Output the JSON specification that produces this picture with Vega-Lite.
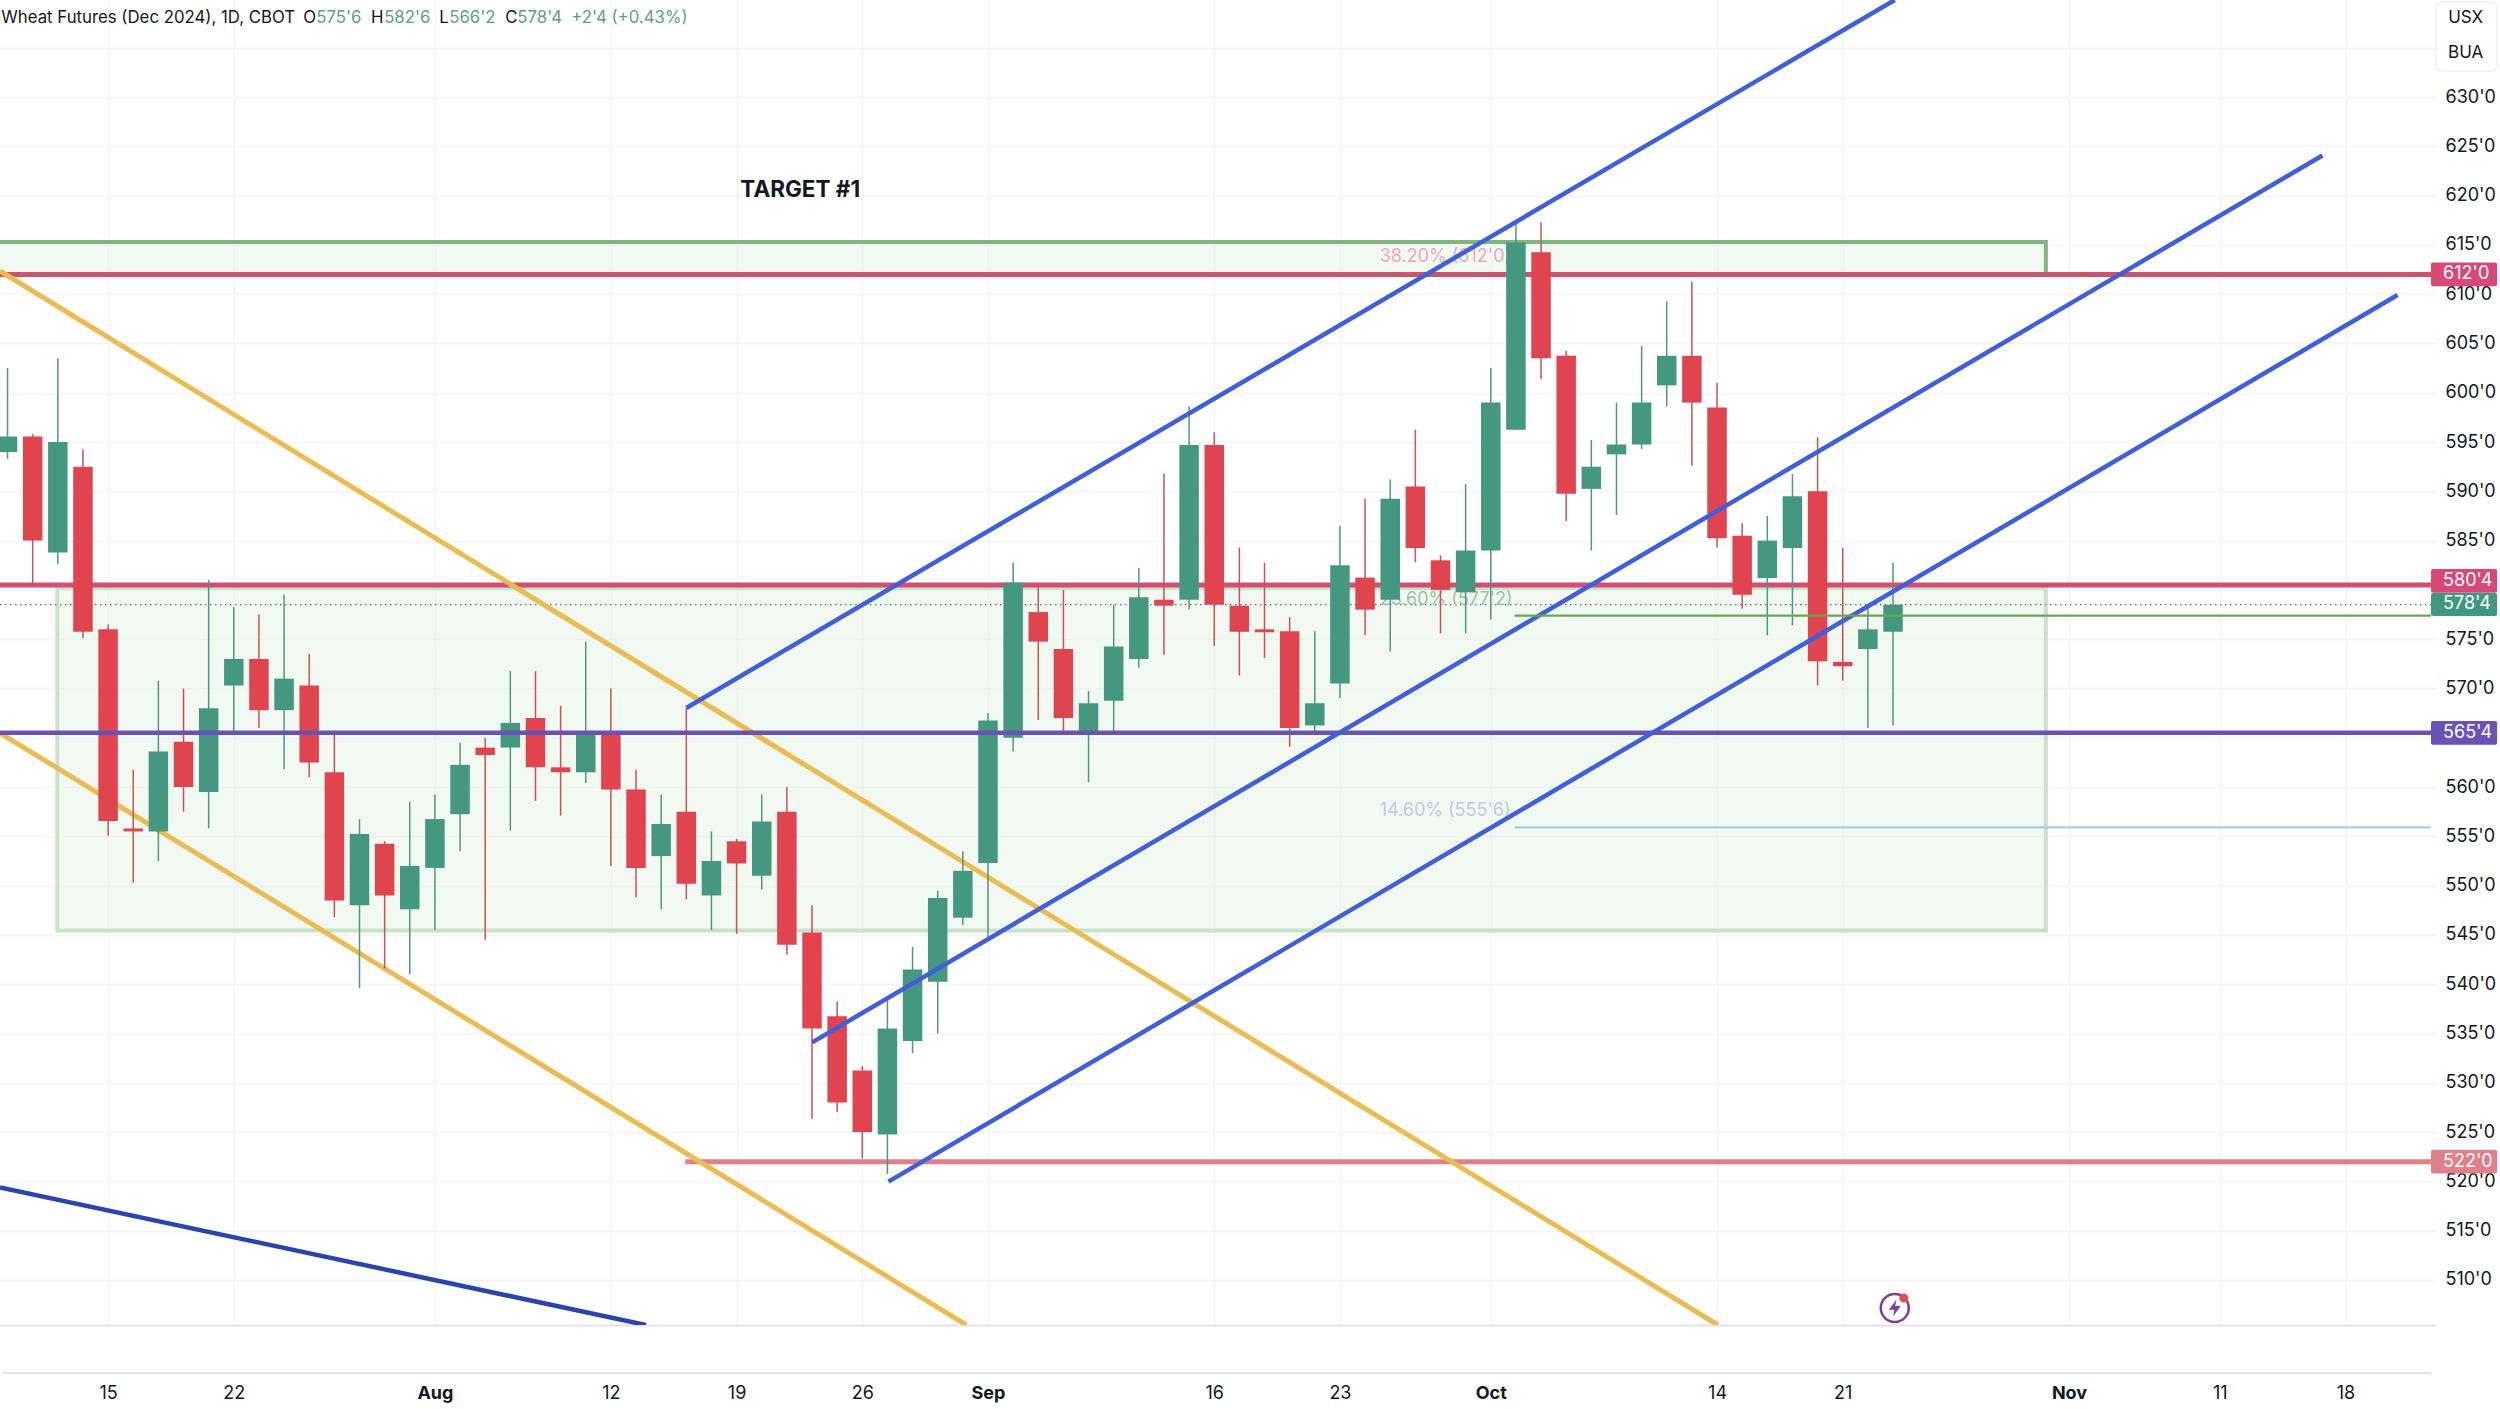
{
  "$schema": "https://vega.github.io/schema/vega-lite/v6.json",
  "width": 2500,
  "height": 1409,
  "autosize": {"type": "fit", "contains": "padding"},
  "padding": {"left": -5, "top": 0, "right": 0, "bottom": 7},
  "background": "#ffffff",
  "config": {"view": {"stroke": null}, "font": "Inter"},
  "datasets": {
    "candles": [
      {"x": -4, "open": 594.0, "high": 602.5, "low": 593.3, "close": 595.55},
      {"x": -3, "open": 595.55, "high": 595.8, "low": 580.4, "close": 585.0},
      {"x": -2, "open": 583.8, "high": 603.5, "low": 582.6, "close": 595.0},
      {"x": -1, "open": 592.5, "high": 594.25, "low": 575.1, "close": 575.75},
      {"x": 0, "open": 576.0, "high": 576.5, "low": 555.05, "close": 556.55},
      {"x": 1, "open": 555.8, "high": 561.75, "low": 550.3, "close": 555.5},
      {"x": 2, "open": 555.5, "high": 570.8, "low": 552.5, "close": 563.6},
      {"x": 3, "open": 564.6, "high": 570.0, "low": 557.5, "close": 560.0},
      {"x": 4, "open": 559.5, "high": 581.0, "low": 555.8, "close": 568.0},
      {"x": 5, "open": 570.3, "high": 578.25, "low": 565.25, "close": 573.0},
      {"x": 6, "open": 573.0, "high": 577.5, "low": 566.0, "close": 567.8},
      {"x": 7, "open": 567.8, "high": 579.5, "low": 561.8, "close": 571.0},
      {"x": 8, "open": 570.3, "high": 573.5, "low": 561.0, "close": 562.5},
      {"x": 9, "open": 561.5, "high": 565.5, "low": 546.8, "close": 548.5},
      {"x": 10, "open": 548.0, "high": 556.75, "low": 539.6, "close": 555.25},
      {"x": 11, "open": 554.25, "high": 554.5, "low": 541.6, "close": 549.0},
      {"x": 12, "open": 547.6, "high": 558.5, "low": 541.0, "close": 552.0},
      {"x": 13, "open": 551.8, "high": 559.25, "low": 545.5, "close": 556.75},
      {"x": 14, "open": 557.25, "high": 564.5, "low": 553.5, "close": 562.25},
      {"x": 15, "open": 564.0, "high": 565.0, "low": 544.5, "close": 563.25},
      {"x": 16, "open": 564.0, "high": 571.75, "low": 555.6, "close": 566.5},
      {"x": 17, "open": 567.0, "high": 571.75, "low": 558.6, "close": 562.0},
      {"x": 18, "open": 562.0, "high": 568.25, "low": 557.1, "close": 561.5},
      {"x": 19, "open": 561.5, "high": 574.75, "low": 560.4, "close": 565.5},
      {"x": 20, "open": 565.5, "high": 570.0, "low": 552.0, "close": 559.75},
      {"x": 21, "open": 559.75, "high": 561.75, "low": 548.8, "close": 551.8},
      {"x": 22, "open": 553.0, "high": 559.25, "low": 547.6, "close": 556.25},
      {"x": 23, "open": 557.5, "high": 568.0, "low": 548.6, "close": 550.2},
      {"x": 24, "open": 549.0, "high": 555.5, "low": 545.5, "close": 552.5},
      {"x": 25, "open": 554.5, "high": 554.75, "low": 545.1, "close": 552.25},
      {"x": 26, "open": 551.0, "high": 559.25, "low": 549.6, "close": 556.5},
      {"x": 27, "open": 557.5, "high": 560.0, "low": 543.0, "close": 544.0},
      {"x": 28, "open": 545.25, "high": 548.0, "low": 526.35, "close": 535.5},
      {"x": 29, "open": 536.75, "high": 538.25, "low": 527.0, "close": 528.0},
      {"x": 30, "open": 531.25, "high": 531.7, "low": 522.3, "close": 525.0},
      {"x": 31, "open": 524.75, "high": 538.4, "low": 520.75, "close": 535.5},
      {"x": 32, "open": 534.25, "high": 543.8, "low": 533.0, "close": 541.5},
      {"x": 33, "open": 540.25, "high": 549.5, "low": 535.0, "close": 548.75},
      {"x": 34, "open": 546.75, "high": 553.5, "low": 546.0, "close": 551.5},
      {"x": 35, "open": 552.3, "high": 567.5, "low": 544.75, "close": 566.75},
      {"x": 36, "open": 565.0, "high": 582.75, "low": 563.6, "close": 580.75},
      {"x": 37, "open": 577.75, "high": 580.5, "low": 566.8, "close": 574.75},
      {"x": 38, "open": 574.0, "high": 580.0, "low": 565.6, "close": 567.0},
      {"x": 39, "open": 565.6, "high": 569.75, "low": 560.5, "close": 568.5},
      {"x": 40, "open": 568.75, "high": 578.5, "low": 565.6, "close": 574.25},
      {"x": 41, "open": 573.0, "high": 582.25, "low": 572.1, "close": 579.25},
      {"x": 42, "open": 579.0, "high": 591.8, "low": 573.4, "close": 578.4},
      {"x": 43, "open": 579.0, "high": 598.6, "low": 578.0, "close": 594.7},
      {"x": 44, "open": 594.7, "high": 596.0, "low": 574.3, "close": 578.5},
      {"x": 45, "open": 578.4, "high": 584.3, "low": 571.3, "close": 575.75},
      {"x": 46, "open": 576.0, "high": 582.75, "low": 573.1, "close": 575.7},
      {"x": 47, "open": 575.8, "high": 577.25, "low": 564.1, "close": 566.0},
      {"x": 48, "open": 566.25, "high": 575.8, "low": 565.3, "close": 568.5},
      {"x": 49, "open": 570.5, "high": 586.5, "low": 569.0, "close": 582.5},
      {"x": 50, "open": 581.25, "high": 589.25, "low": 575.4, "close": 578.0},
      {"x": 51, "open": 579.0, "high": 591.2, "low": 573.75, "close": 589.25},
      {"x": 52, "open": 590.5, "high": 596.25, "low": 582.8, "close": 584.25},
      {"x": 53, "open": 583.0, "high": 583.5, "low": 575.6, "close": 580.0},
      {"x": 54, "open": 579.75, "high": 590.75, "low": 575.6, "close": 584.0},
      {"x": 55, "open": 584.0, "high": 602.5, "low": 577.0, "close": 599.0},
      {"x": 56, "open": 596.25, "high": 617.2, "low": 596.25, "close": 615.25},
      {"x": 57, "open": 614.25, "high": 617.3, "low": 601.4, "close": 603.5},
      {"x": 58, "open": 603.75, "high": 604.25, "low": 587.0, "close": 589.75},
      {"x": 59, "open": 590.25, "high": 595.2, "low": 584.0, "close": 592.5},
      {"x": 60, "open": 593.75, "high": 599.0, "low": 587.6, "close": 594.75},
      {"x": 61, "open": 594.75, "high": 604.75, "low": 594.3, "close": 599.0},
      {"x": 62, "open": 600.75, "high": 609.25, "low": 598.6, "close": 603.75},
      {"x": 63, "open": 603.75, "high": 611.25, "low": 592.6, "close": 599.0},
      {"x": 64, "open": 598.5, "high": 601.0, "low": 584.3, "close": 585.25},
      {"x": 65, "open": 585.5, "high": 586.75, "low": 578.1, "close": 579.5},
      {"x": 66, "open": 581.2, "high": 587.5, "low": 575.4, "close": 585.0},
      {"x": 67, "open": 584.25, "high": 591.75, "low": 576.4, "close": 589.5},
      {"x": 68, "open": 590.0, "high": 595.5, "low": 570.3, "close": 572.75},
      {"x": 69, "open": 572.7, "high": 584.25, "low": 570.8, "close": 572.25},
      {"x": 70, "open": 574.0, "high": 578.6, "low": 566.0, "close": 576.0},
      {"x": 71, "open": 575.75, "high": 582.75, "low": 566.25, "close": 578.5}
    ],
    "linesUnder": [
      {"line": "res612", "x": -4.3, "y": 612, "x2": 92.4, "y2": 612},
      {"line": "res580", "x": -4.3, "y": 580.5, "x2": 92.4, "y2": 580.5},
      {"line": "sup522", "x": 22.96, "y": 522, "x2": 92.4, "y2": 522},
      {"line": "goldUpper", "x": -4.3, "y": 612.35, "x2": 64.03, "y2": 505.43},
      {"line": "goldLower", "x": -4.3, "y": 565.48, "x2": 34.14, "y2": 505.43}
    ],
    "linesOver": [
      {"line": "sup565", "x": -4.3, "y": 565.5, "x2": 92.4, "y2": 565.5},
      {"line": "navy", "x": -4.3, "y": 519.38, "x2": 21.39, "y2": 505.43},
      {"line": "blueTop", "x": 23.0, "y": 568.02, "x2": 71.07, "y2": 639.84},
      {"line": "blueMid", "x": 28.01, "y": 534.1, "x2": 88.08, "y2": 624.07},
      {"line": "blueLow", "x": 31.04, "y": 519.97, "x2": 91.07, "y2": 609.91}
    ],
    "fibs": [
      {"line": "fib236", "x": 55.95, "y": 577.4, "x2": 92.4, "y2": 577.4},
      {"line": "fib146", "x": 55.95, "y": 555.9, "x2": 92.4, "y2": 555.9}
    ],
    "last": [{"x": -4.3, "y": 578.5, "x2": 92.4}],
    "zoneLower": [{"x": -2.02, "x2": 77.08, "y": 580.2, "y2": 545.46}],
    "zoneUpper": [{"x": -6, "x2": 77.08, "y": 615.3, "y2": 612}],
    "tags": [
      {"line": "res612", "label": "612'0", "x": 92.4, "x2": 95.03, "y": 613.2, "y2": 610.8, "mid": 612, "tx": 92.88},
      {"line": "res580", "label": "580'4", "x": 92.4, "x2": 95.03, "y": 582.12, "y2": 579.72, "mid": 580.92, "tx": 92.88},
      {"line": "last", "label": "578'4", "x": 92.4, "x2": 95.03, "y": 579.69, "y2": 577.35, "mid": 578.52, "tx": 92.88},
      {"line": "sup565", "label": "565'4", "x": 92.4, "x2": 95.03, "y": 566.7, "y2": 564.3, "mid": 565.5, "tx": 92.88},
      {"line": "sup522", "label": "522'0", "x": 92.4, "x2": 95.03, "y": 523.2, "y2": 520.8, "mid": 522, "tx": 92.88}
    ],
    "header": [
      {"tone": "dark", "x": -4.25, "y": 638.0, "text": "Wheat Futures (Dec 2024), 1D, CBOT"},
      {"tone": "dark", "x": 7.76, "y": 638.0, "text": "O"},
      {"tone": "up", "x": 8.28, "y": 638.0, "text": "575'6"},
      {"tone": "dark", "x": 10.46, "y": 638.0, "text": "H"},
      {"tone": "up", "x": 10.98, "y": 638.0, "text": "582'6"},
      {"tone": "dark", "x": 13.17, "y": 638.0, "text": "L"},
      {"tone": "up", "x": 13.57, "y": 638.0, "text": "566'2"},
      {"tone": "dark", "x": 15.8, "y": 638.0, "text": "C"},
      {"tone": "up", "x": 16.28, "y": 638.0, "text": "578'4"},
      {"tone": "up", "x": 18.42, "y": 638.0, "text": "+2'4 (+0.43%)"}
    ],
    "fibLabels": [
      {"tone": "fib382", "x": 50.58, "y": 613.77, "text": "38.20% (612'0)"},
      {"tone": "fib236", "x": 50.58, "y": 578.98, "text": "23.60% (577'2)"},
      {"tone": "fib146", "x": 50.58, "y": 557.57, "text": "14.60% (555'6)"}
    ],
    "note": [{"x": 25.15, "y": 620.6, "text": "TARGET #1"}],
    "scaleBox": [{"x": 92.6, "x2": 95.03, "y": 639.64, "y2": 632.64}],
    "scaleButtons": [
      {"text": "USX", "x": 93.78, "y": 638.0},
      {"text": "BUA", "x": 93.78, "y": 634.46}
    ],
    "timeRule": [{"x": -4.2, "x2": 92.4, "y": 500.56}],
    "bolt": [{"x": 71.07, "y": 507.15}],
    "boltDot": [{"x": 71.43, "y": 508.16}]
  },
  "encoding": {
    "x": {
      "field": "x",
      "type": "quantitative",
      "title": null,
      "scale": {"domain": [-4.3, 92.4], "nice": false, "zero": false},
      "axis": {
        "orient": "bottom",
        "values": [0, 5, 13, 20, 25, 30, 35, 44, 49, 55, 64, 69, 78, 84, 89],
        "labelExpr": "{'0':'15','5':'22','13':'Aug','20':'12','25':'19','30':'26','35':'Sep','44':'16','49':'23','55':'Oct','64':'14','69':'21','78':'Nov','84':'11','89':'18'}[datum.value]",
        "labelFont": "Inter",
        "labelFontSize": 18,
        "labelFontWeight": {"condition": {"test": "indexof([13, 35, 55, 78], datum.value) >= 0", "value": "bold"}, "value": "normal"},
        "labelColor": "#131722",
        "labelPadding": 68,
        "labelBaseline": "middle",
        "domain": true,
        "domainColor": "#e0e3eb",
        "domainWidth": 2,
        "ticks": false,
        "grid": true,
        "gridColor": "#f3f4f6",
        "gridWidth": 1.5
      }
    },
    "y": {
      "field": "y",
      "type": "quantitative",
      "title": null,
      "scale": {"domain": [505.43, 639.84], "nice": false, "zero": false},
      "axis": {
        "orient": "right",
        "values": [510, 515, 520, 525, 530, 535, 540, 545, 550, 555, 560, 565, 570, 575, 580, 585, 590, 595, 600, 605, 610, 615, 620, 625, 630, 635],
        "labelExpr": "datum.value < 635 && datum.value != 580 && datum.value != 565 ? datum.value + \"'0\" : ''",
        "labelFont": "Inter",
        "labelFontSize": 18,
        "labelColor": "#131722",
        "labelPadding": 9,
        "domain": false,
        "ticks": false,
        "grid": true,
        "gridColor": "#f3f4f6",
        "gridWidth": 1.5
      }
    }
  },
  "layer": [
    {
      "data": {"name": "zoneLower"},
      "mark": {"type": "rect", "fill": "#e6f4e8", "fillOpacity": 0.5, "stroke": "#c8e3ca", "strokeWidth": 4, "clip": true},
      "encoding": {"x2": {"field": "x2"}, "y2": {"field": "y2"}}
    },
    {
      "data": {"name": "zoneUpper"},
      "mark": {"type": "rect", "fill": "#e6f4e8", "fillOpacity": 0.5, "stroke": "#82b67f", "strokeWidth": 4, "clip": true},
      "encoding": {"x2": {"field": "x2"}, "y2": {"field": "y2"}}
    },
    {
      "data": {"name": "last"},
      "mark": {"type": "rule", "strokeWidth": 1.2, "strokeDash": [1.5, 3.5], "color": "#4d7f70", "clip": true},
      "encoding": {"x2": {"field": "x2"}}
    },
    {
      "data": {"name": "fibLabels"},
      "mark": {"type": "text", "align": "left", "baseline": "middle", "font": "Inter", "fontSize": 18},
      "encoding": {
        "text": {"field": "text"},
        "color": {
          "field": "tone",
          "type": "nominal",
          "legend": null,
          "scale": {
            "domain": ["dark", "up", "fib382", "fib236", "fib146"],
            "range": ["#131722", "#5c9e8c", "#e9a9c3", "#9dc49a", "#b9cde2"]
          }
        }
      }
    },
    {
      "data": {"name": "linesUnder"},
      "mark": {"type": "rule", "strokeWidth": 5, "clip": true},
      "encoding": {
        "x2": {"field": "x2"},
        "y2": {"field": "y2"},
        "stroke": {
          "field": "line",
          "type": "nominal",
          "legend": null,
          "scale": {
            "domain": ["goldUpper", "goldLower", "res612", "res580", "sup522", "sup565", "navy", "blueTop", "blueMid", "blueLow", "fib236", "fib146"],
            "range": ["#eabc52", "#eabc52", "#c9556f", "#d14f72", "#e08088", "#6a52b5", "#2a44ad", "#3f5fdb", "#3f5fdb", "#3f5fdb", "#6ba552", "#a8cde6"]
          }
        }
      }
    },
    {
      "data": {"name": "candles"},
      "mark": {"type": "rule", "strokeWidth": 1.5, "clip": true},
      "encoding": {
        "y": {"field": "high", "type": "quantitative", "title": null, "scale": {"domain": [505.43, 639.84], "nice": false, "zero": false}},
        "y2": {"field": "low"},
        "color": {"condition": {"test": "datum.close >= datum.open", "value": "#4f9784"}, "value": "#c9525a"}
      }
    },
    {
      "data": {"name": "candles"},
      "mark": {"type": "bar", "size": 19.5, "clip": true},
      "encoding": {
        "y": {"field": "open", "type": "quantitative", "title": null, "scale": {"domain": [505.43, 639.84], "nice": false, "zero": false}},
        "y2": {"field": "close"},
        "color": {"condition": {"test": "datum.close >= datum.open", "value": "#459880"}, "value": "#e0454f"}
      }
    },
    {
      "data": {"name": "linesOver"},
      "mark": {"type": "rule", "strokeWidth": 4.5, "clip": true},
      "encoding": {
        "x2": {"field": "x2"},
        "y2": {"field": "y2"},
        "stroke": {
          "field": "line",
          "type": "nominal",
          "legend": null,
          "scale": {
            "domain": ["goldUpper", "goldLower", "res612", "res580", "sup522", "sup565", "navy", "blueTop", "blueMid", "blueLow", "fib236", "fib146"],
            "range": ["#eabc52", "#eabc52", "#c9556f", "#d14f72", "#e08088", "#6a52b5", "#2a44ad", "#3f5fdb", "#3f5fdb", "#3f5fdb", "#6ba552", "#a8cde6"]
          }
        }
      }
    },
    {
      "data": {"name": "fibs"},
      "mark": {"type": "rule", "strokeWidth": 2.2, "clip": true},
      "encoding": {
        "x2": {"field": "x2"},
        "y2": {"field": "y2"},
        "stroke": {
          "field": "line",
          "type": "nominal",
          "legend": null,
          "scale": {
            "domain": ["goldUpper", "goldLower", "res612", "res580", "sup522", "sup565", "navy", "blueTop", "blueMid", "blueLow", "fib236", "fib146"],
            "range": ["#eabc52", "#eabc52", "#c9556f", "#d14f72", "#e08088", "#6a52b5", "#2a44ad", "#3f5fdb", "#3f5fdb", "#3f5fdb", "#6ba552", "#a8cde6"]
          }
        }
      }
    },
    {
      "data": {"name": "timeRule"},
      "mark": {"type": "rule", "strokeWidth": 2, "color": "#e0e3eb"},
      "encoding": {"x2": {"field": "x2"}}
    },
    {
      "data": {"name": "scaleBox"},
      "mark": {"type": "rect", "fill": "#ffffff", "stroke": "#eef0f3", "strokeWidth": 1.5, "cornerRadius": 6},
      "encoding": {"x2": {"field": "x2"}, "y2": {"field": "y2"}}
    },
    {
      "data": {"name": "scaleButtons"},
      "mark": {"type": "text", "align": "center", "baseline": "middle", "font": "Inter", "fontSize": 17, "color": "#131722"},
      "encoding": {"text": {"field": "text"}}
    },
    {
      "data": {"name": "tags"},
      "mark": {"type": "rect", "cornerRadius": 2},
      "encoding": {
        "x2": {"field": "x2"},
        "y2": {"field": "y2"},
        "fill": {
          "field": "line",
          "type": "nominal",
          "legend": null,
          "scale": {
            "domain": ["res612", "res580", "last", "sup565", "sup522"],
            "range": ["#d8497a", "#d8497a", "#3f9880", "#6a52b8", "#e08088"]
          }
        }
      }
    },
    {
      "data": {"name": "tags"},
      "mark": {"type": "text", "align": "left", "baseline": "middle", "font": "Inter", "fontSize": 18, "color": "#ffffff"},
      "encoding": {
        "x": {"field": "tx", "type": "quantitative", "title": null, "scale": {"domain": [-4.3, 92.4], "nice": false, "zero": false}},
        "y": {"field": "mid", "type": "quantitative", "title": null, "scale": {"domain": [505.43, 639.84], "nice": false, "zero": false}},
        "text": {"field": "label"}
      }
    },
    {
      "data": {"name": "header"},
      "mark": {"type": "text", "align": "left", "baseline": "middle", "font": "Inter", "fontSize": 16.8},
      "encoding": {
        "text": {"field": "text"},
        "color": {
          "field": "tone",
          "type": "nominal",
          "legend": null,
          "scale": {
            "domain": ["dark", "up", "fib382", "fib236", "fib146"],
            "range": ["#131722", "#5c9e8c", "#e9a9c3", "#9dc49a", "#b9cde2"]
          }
        }
      }
    },
    {
      "data": {"name": "note"},
      "mark": {"type": "text", "align": "left", "baseline": "middle", "font": "Inter", "fontSize": 22.5, "fontWeight": "bold", "color": "#131722"},
      "encoding": {"text": {"field": "text"}}
    },
    {
      "data": {"name": "bolt"},
      "mark": {"type": "point", "shape": "circle", "filled": false, "size": 784, "strokeWidth": 2.5, "color": "#7b3fa0", "opacity": 1},
      "encoding": {}
    },
    {
      "data": {"name": "bolt"},
      "mark": {"type": "point", "shape": "M0.2,-1L-0.7,0.2L-0.04,0.2L-0.2,1L0.7,-0.24L0.04,-0.24Z", "filled": true, "size": 289, "color": "#7b3fa0", "opacity": 1},
      "encoding": {}
    },
    {
      "data": {"name": "boltDot"},
      "mark": {"type": "point", "shape": "circle", "filled": true, "size": 81, "color": "#d9534f", "opacity": 1},
      "encoding": {}
    }
  ]
}
